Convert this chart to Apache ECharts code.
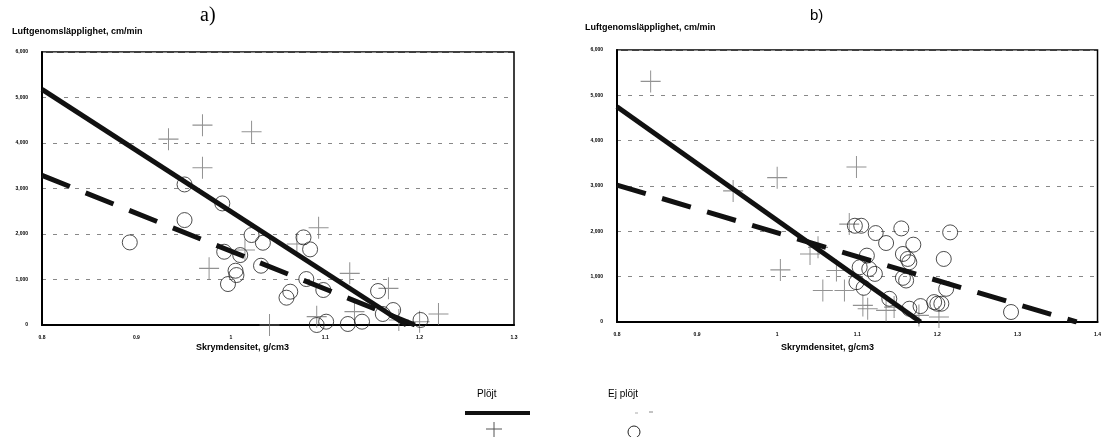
<!DOCTYPE html>
<html>
<head>
<meta charset="utf-8">
<script src="https://cdn.jsdelivr.net/npm/echarts@6/dist/echarts.min.js"></script>
<style>
  html, body { margin: 0; padding: 0; background: #fff; }
  #chart { width: 1104px; height: 437px; }
</style>
</head>
<body>
<div id="chart"></div>
<script>
// axis ticks
const yTicks = [0, 1000, 2000, 3000, 4000, 5000, 6000];
const xTicksA = [0.8, 0.9, 1, 1.1, 1.2, 1.3];
const xTicksB = [0.8, 0.9, 1, 1.1, 1.2, 1.3, 1.4];

// panel a) – plowed (crosses) and not plowed (circles)
const plojtA = [
  [0.934, 4085], [0.970, 4392], [1.022, 4246], [0.970, 3455], [0.977, 1245],
  [1.093, 2138], [1.126, 1135], [1.167, 805], [1.220, 242], [1.041, 0],
  [1.091, 183], [1.131, 293], [1.178, 110], [1.200, 73], [1.070, 1779], [1.015, 1647]
];
const ejPlojtA = [
  [0.893, 1815], [0.951, 3089], [0.951, 2306], [0.991, 2672], [1.022, 1977],
  [1.034, 1808], [0.993, 1610], [1.010, 1537], [1.032, 1303], [1.005, 1193],
  [1.006, 1098], [0.997, 900], [1.077, 1925], [1.084, 1662], [1.080, 1010],
  [1.063, 732], [1.059, 600], [1.098, 769], [1.156, 747], [1.172, 329],
  [1.161, 242], [1.139, 73], [1.124, 22], [1.101, 73], [1.091, 0], [1.201, 110]
];
const plojtLineA = [[0.8, 5180], [1.186, 0]];
const ejPlojtLineA = [[0.8, 3290], [1.195, 0]];

// panel b)
const plojtB = [
  [0.842, 5307], [0.945, 2892], [1.0, 3184], [1.099, 3419], [1.090, 2160],
  [1.004, 1149], [1.041, 1501], [1.051, 1647], [1.074, 1135], [1.057, 695],
  [1.084, 695], [1.107, 366], [1.113, 293], [1.136, 256], [1.202, 110],
  [1.177, 146], [1.146, 329]
];
const ejPlojtB = [
  [1.105, 2123], [1.097, 2123], [1.123, 1962], [1.136, 1742], [1.155, 2064],
  [1.170, 1706], [1.216, 1977], [1.157, 1501], [1.163, 1391], [1.165, 1318],
  [1.208, 1391], [1.112, 1464], [1.103, 1208], [1.115, 1171], [1.122, 1061],
  [1.099, 878], [1.108, 754], [1.157, 974], [1.161, 915], [1.211, 732],
  [1.140, 512], [1.165, 293], [1.179, 351], [1.196, 439], [1.200, 403],
  [1.205, 403], [1.292, 220]
];
const plojtLineB = [[0.8, 4750], [1.179, 0]];
const ejPlojtLineB = [[0.8, 3020], [1.374, 0]];

const yName = 'Luftgenomsläpplighet, cm/min';
const xName = 'Skrymdensitet, g/cm3';
const FONT = '"Liberation Sans", Arial, sans-serif';
const PLUS = 'path://M9.5,0h1v20h-1zM0,9.5h20v1h-20z';

const chart = echarts.init(document.getElementById('chart'));

function xAxis(idx, ticks) {
  return {
    type: 'value', gridIndex: idx,
    min: ticks[0], max: ticks[ticks.length - 1], interval: 0.1,
    axisLine: { show: true, onZero: false, lineStyle: { color: '#000', width: 2 } },
    axisTick: { show: false },
    splitLine: { show: false },
    axisLabel: {
      fontSize: 5, fontWeight: 'bold', color: '#000', fontFamily: FONT, margin: 10,
      formatter: v => String(Math.round(v * 10) / 10)
    }
  };
}
function yAxis(idx) {
  return {
    type: 'value', gridIndex: idx, min: 0, max: 6000, interval: 1000,
    axisLine: { show: true, lineStyle: { color: '#000', width: 2 } },
    axisTick: { show: false },
    splitLine: { show: true, lineStyle: { color: '#888', width: 1, type: [4, 7] } },
    axisLabel: {
      fontSize: 5, fontWeight: 'bold', color: '#000', fontFamily: FONT, margin: 14,
      formatter: v => v.toLocaleString('en-US')
    }
  };
}
function crosses(idx, data) {
  return {
    type: 'scatter', xAxisIndex: idx, yAxisIndex: idx, data,
    symbol: PLUS, symbolSize: [20, 22],
    itemStyle: { color: '#777' }, silent: true
  };
}
function circles(idx, data) {
  return {
    type: 'scatter', xAxisIndex: idx, yAxisIndex: idx, data,
    symbol: 'circle', symbolSize: 15,
    itemStyle: { color: 'rgba(0,0,0,0)', borderColor: '#222', borderWidth: 1 }, silent: true
  };
}
function fitLine(idx, data, dashed) {
  return {
    type: 'line', xAxisIndex: idx, yAxisIndex: idx, data,
    showSymbol: false, silent: true, z: 5,
    lineStyle: { color: '#111', width: 5, type: dashed ? [30, 17] : 'solid' }
  };
}

const option = {
  animation: false,
  backgroundColor: '#fff',
  grid: [
    { left: 42, top: 52, width: 472, height: 273, show: true, borderColor: '#000', borderWidth: 1.5 },
    { left: 617, top: 50, width: 483, height: 272, show: true, borderColor: '#000', borderWidth: 1.5 }
  ],
  xAxis: [xAxis(0, xTicksA), xAxis(1, xTicksB)],
  yAxis: [yAxis(0), yAxis(1)],
  series: [
    crosses(0, plojtA), circles(0, ejPlojtA),
    fitLine(0, plojtLineA, false), fitLine(0, ejPlojtLineA, true),
    crosses(1, plojtB), circles(1, ejPlojtB),
    fitLine(1, plojtLineB, false), fitLine(1, ejPlojtLineB, true)
  ],
  graphic: [
    { type: 'text', left: 200, top: 6, style: { text: 'a)', font: '20px "Liberation Serif", serif', fill: '#000' } },
    { type: 'text', left: 810, top: 8, style: { text: 'b)', font: '15px ' + FONT, fill: '#000' } },
    { type: 'text', left: 12, top: 27, style: { text: yName, font: 'bold 9px ' + FONT, fill: '#000' } },
    { type: 'text', left: 585, top: 23, style: { text: yName, font: 'bold 9px ' + FONT, fill: '#000' } },
    { type: 'text', left: 196, top: 343, style: { text: xName, font: 'bold 9px ' + FONT, fill: '#000' } },
    { type: 'text', left: 781, top: 343, style: { text: xName, font: 'bold 9px ' + FONT, fill: '#000' } },
    // legend
    { type: 'text', left: 477, top: 389, style: { text: 'Plöjt', font: '10px ' + FONT, fill: '#000' } },
    { type: 'text', left: 608, top: 389, style: { text: 'Ej plöjt', font: '10px ' + FONT, fill: '#000' } },
    { type: 'rect', shape: { x: 465, y: 411, width: 65, height: 4 }, style: { fill: '#111' } },
    { type: 'line', shape: { x1: 635, y1: 413, x2: 638, y2: 413 }, style: { stroke: '#aaa', lineWidth: 1 } },
    { type: 'line', shape: { x1: 649, y1: 412, x2: 653, y2: 412 }, style: { stroke: '#888', lineWidth: 1 } },
    { type: 'line', shape: { x1: 486, y1: 429, x2: 502, y2: 429 }, style: { stroke: '#555', lineWidth: 1 } },
    { type: 'line', shape: { x1: 494, y1: 422, x2: 494, y2: 437 }, style: { stroke: '#555', lineWidth: 1 } },
    { type: 'circle', shape: { cx: 634, cy: 432, r: 6 }, style: { fill: 'none', stroke: '#222', lineWidth: 1 } }
  ]
};

chart.setOption(option);
</script>
</body>
</html>
